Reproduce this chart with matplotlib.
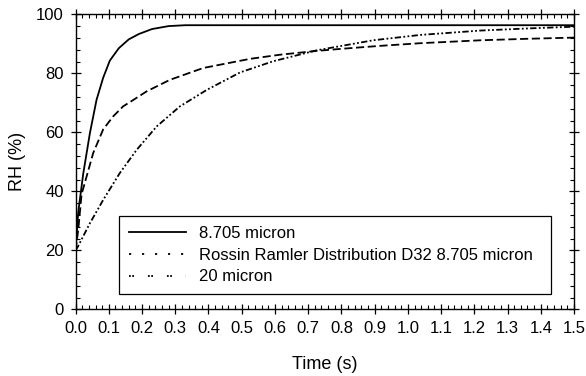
import matplotlib
matplotlib.use("Agg")
import matplotlib.pyplot as plt
from matplotlib.lines import Line2D
from matplotlib.ticker import MultipleLocator, FormatStrFormatter

plt.rcParams['font.family'] = ['Liberation Sans', 'DejaVu Sans']

# 8.705 micron
t_a = [0, 0.008, 0.023, 0.043, 0.063, 0.083, 0.103, 0.13, 0.16, 0.19, 0.23, 0.28, 0.33, 0.5, 1.0, 1.5]
rh_a = [20, 33, 46, 59.7, 71, 78.5, 84.3, 88.5, 91.5, 93.3, 95.0, 96.0, 96.3, 96.3, 96.3, 96.3]

# Rossin Ramler Distribution D32 8.705 micron
t_b = [0, 0.008, 0.018, 0.033, 0.053, 0.083, 0.113, 0.143, 0.174, 0.214, 0.284, 0.384,
       0.525, 0.615, 0.726, 0.8, 0.916, 1.037, 1.22, 1.36, 1.5]
rh_b = [20, 27, 39, 45, 53, 61, 65.4, 68.8, 71.0, 73.9, 77.8, 81.8,
        84.9, 86.3, 87.6, 88.3, 89.3, 90.2, 91.2, 91.7, 92.1]

# 20 micron
t_c = [0, 0.008, 0.043, 0.083, 0.133, 0.184, 0.244, 0.314, 0.395, 0.495, 0.595, 0.726,
       0.896, 1.037, 1.22, 1.36, 1.5]
rh_c = [20, 21.5, 29.2, 37.1, 46.2, 54.1, 62, 68.8, 74.4, 80.3, 84.1, 87.8,
        91.2, 93.0, 94.5, 95.2, 95.8]

labels = ["8.705 micron", "Rossin Ramler Distribution D32 8.705 micron", "20 micron"]

fig = plt.figure(figsize=(5.86, 3.76), dpi=100)
ax = fig.add_axes([0.129, 0.177, 0.8505, 0.785])

ax.plot(t_a, rh_a, color='black', lw=1.3, solid_joinstyle='round')
ax.plot(t_b, rh_b, color='black', lw=1.3, dashes=(4.5, 2))
ax.plot(t_c, rh_c, color='black', lw=1.3, dashes=(3.5, 1.3, 1.0, 1.3, 1.0, 1.3))

ax.set_xlim(0, 1.5)
ax.set_ylim(0, 100)
ax.xaxis.set_major_locator(MultipleLocator(0.1))
ax.xaxis.set_minor_locator(MultipleLocator(0.02))
ax.xaxis.set_major_formatter(FormatStrFormatter('%.1f'))
ax.yaxis.set_major_locator(MultipleLocator(20))
ax.yaxis.set_minor_locator(MultipleLocator(4))
ax.tick_params(which='major', direction='inout', length=7, width=0.9,
               top=True, right=True, labelsize=12, pad=5)
ax.tick_params(which='minor', direction='in', length=3, width=0.8,
               top=True, right=True)
for s in ax.spines.values():
    s.set_linewidth(1.0)

ax.set_xlabel("Time (s)", fontsize=13, labelpad=14)
ax.set_ylabel("RH (%)", fontsize=13, labelpad=7)

handles = [
    Line2D([], [], color='black', lw=1.3),
    Line2D([], [], color='black', lw=1.3, dashes=(1.2, 6)),
    Line2D([], [], color='black', lw=1.3, dashes=(1.0, 0.8, 1.0, 7.7)),
]
leg = ax.legend(handles, labels, loc='lower left',
                bbox_to_anchor=(0.0875, 0.051, 0.8665, 0.271), mode='expand',
                borderaxespad=0, fancybox=False, edgecolor='black', framealpha=1,
                fontsize=12, handlelength=3.4, handletextpad=0.8,
                labelspacing=0.4, borderpad=0.6)
leg.get_frame().set_linewidth(0.9)

fig.savefig("out.png", dpi=100)
